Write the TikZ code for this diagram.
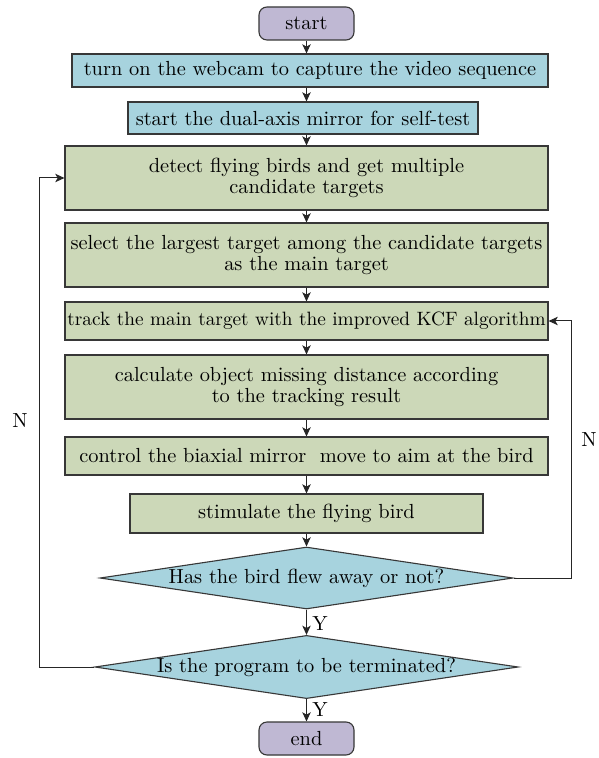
\documentclass[tikz,border=0pt]{standalone}
\usepackage{tikz}
\usetikzlibrary{shapes.geometric, arrows.meta, calc}
\definecolor{termlilac}{RGB}{191,184,211}
\definecolor{ioblue}{RGB}{167,211,222}
\definecolor{procgreen}{RGB}{204,216,184}
\definecolor{edgegray}{RGB}{55,55,55}
\newcommand{\chartfont}{\fontsize{10.2}{10.5}\selectfont}

\tikzset{
  base/.style={draw=edgegray, line width=0.55pt, inner sep=0pt, align=center, font=\chartfont},
  terminal/.style={base, fill=termlilac, rounded corners=4pt, minimum width=47.5pt, minimum height=16.5pt},
  iobox/.style={base, fill=ioblue, minimum height=16.5pt},
  procbox/.style={base, fill=procgreen, minimum width=241.5pt},
  decision/.style={base, diamond, fill=ioblue, aspect=6.7, minimum height=31pt},
  flow/.style={-{Stealth[length=4.6pt,width=4.2pt,inset=1.2pt]}, line width=0.5pt, draw=black!85},
  lbl/.style={font=\chartfont, inner sep=1pt}
}

\begin{document}
\begin{tikzpicture}[x=0.5pt, y=-0.5pt]
\useasboundingbox[fill=white] (0,0) rectangle (598,758);

% main column and the two return lines
\coordinate (axis) at (306.5,0);
\coordinate (lbend) at (39.5,0);
\coordinate (rbend) at (571.5,0);

% steps, top to bottom
\node[terminal] (start) at (306.5,23.5) {start};
\node[iobox, minimum width=238pt] (webcam) at (310,70.5) {turn on the webcam to capture the video sequence};
\node[iobox, minimum width=175pt, minimum height=16pt] (selftest) at (303,118) {start the dual-axis mirror for self-test};
\node[procbox, minimum height=32pt] (detect) at (306.5,178) {detect flying birds and get multiple\\candidate targets};
\node[procbox, minimum height=32pt] (select) at (306.5,255) {select the largest target among the candidate targets\\as the main target};
\node[procbox, minimum height=19pt, font=\fontsize{9.65}{10}\selectfont] (track) at (306.5,321) {track the main target with the improved KCF algorithm};
\node[procbox, minimum height=32pt] (missdist) at (306.5,387) {calculate object missing distance according\\to the tracking result};
\node[procbox, minimum height=19pt] (aim) at (306.5,456) {control the biaxial mirror~ move to aim at the bird};
\node[procbox, minimum width=176.5pt, minimum height=19.5pt] (stim) at (306.5,513.5) {stimulate the flying bird};
\node[decision, minimum width=206.5pt] (flewaway) at (306.5,578) {Has the bird flew away or not?};
\node[decision, minimum width=209.5pt] (quit) at (306.5,667) {Is the program to be terminated?};
\node[terminal] (stop) at (306.5,738.5) {end};

% straight-down arrows
\foreach \a/\b in {start/webcam, webcam/selftest, selftest/detect, detect/select,
                   select/track, track/missdist, missdist/aim, aim/stim,
                   stim/flewaway, flewaway/quit, quit/stop}
  \draw[flow] (axis |- \a.south) -- (axis |- \b.north);

% loops back
\draw[flow] (flewaway.east) -- (flewaway.east -| rbend) |- (track.east);
\draw[flow] (quit.west) -- (quit.west -| lbend) |- (detect.west);

% branch labels
\node[lbl, anchor=west] (yes1) at (310,624) {Y};
\node[lbl, anchor=west] (yes2) at (310,710) {Y};
\node[lbl] (no1) at (589,440) {N};
\node[lbl] (no2) at (20,421) {N};

\end{tikzpicture}
\end{document}
